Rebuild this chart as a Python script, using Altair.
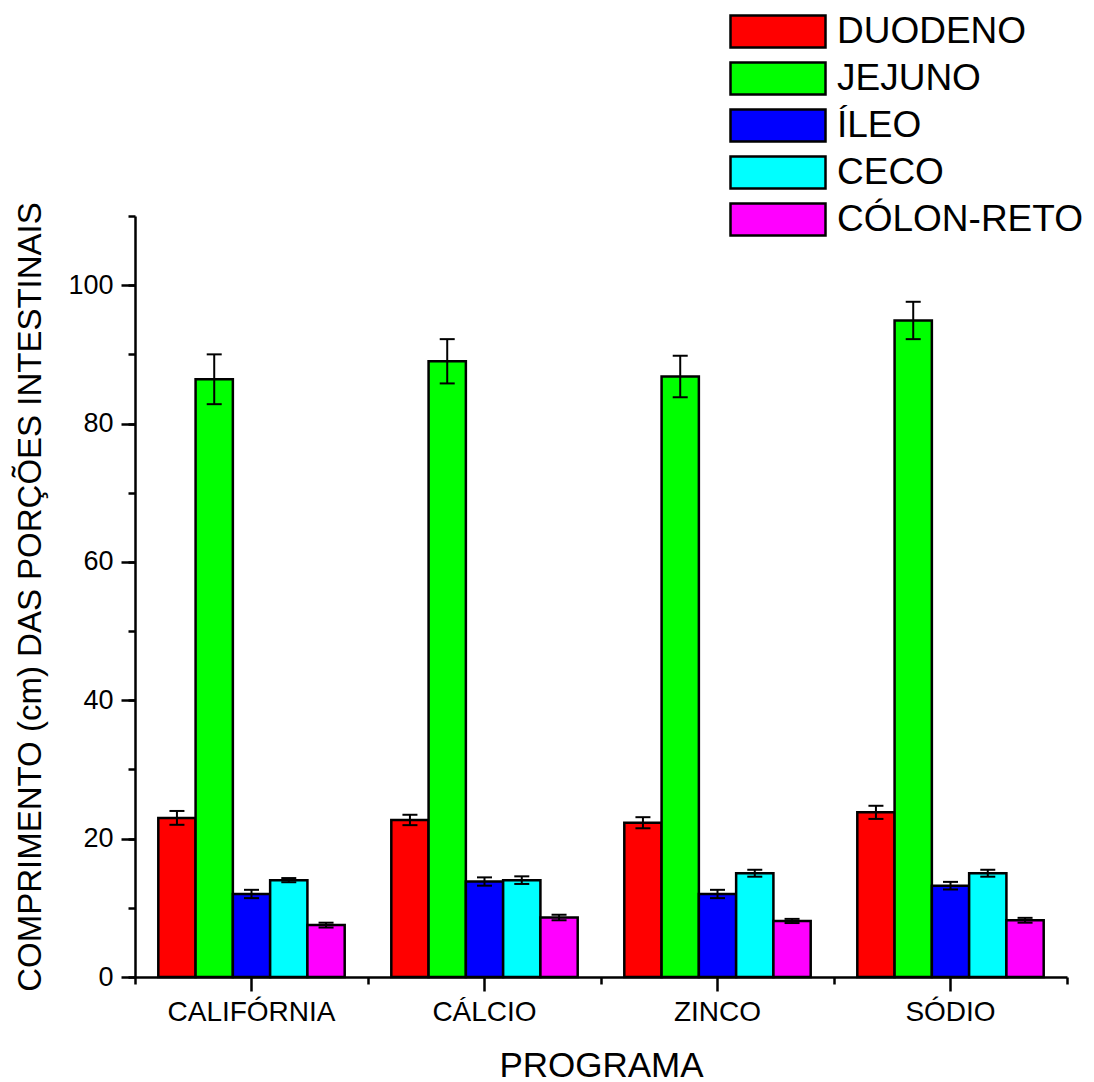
import altair as alt
import pandas as pd

# Programs (x categories) and intestinal segments (series)
programas = ["CALIFÓRNIA", "CÁLCIO", "ZINCO", "SÓDIO"]
porcoes = ["DUODENO", "JEJUNO", "ÍLEO", "CECO", "CÓLON-RETO"]
cores = ["#ff0000", "#00ff00", "#0000ff", "#00ffff", "#ff00ff"]

# Mean length (cm) per segment, in program order
duodeno = [23.0, 22.7, 22.3, 23.8]
jejuno = [86.4, 89.0, 86.8, 94.9]
ileo = [12.0, 13.8, 12.0, 13.2]
ceco = [14.0, 14.0, 15.0, 15.0]
colon_reto = [7.5, 8.6, 8.1, 8.2]

# Error (± cm) per segment, in program order
err_duodeno = [1.0, 0.75, 0.8, 0.95]
err_jejuno = [3.6, 3.2, 3.0, 2.7]
err_ileo = [0.6, 0.6, 0.6, 0.55]
err_ceco = [0.3, 0.55, 0.5, 0.5]
err_colon_reto = [0.35, 0.4, 0.3, 0.35]

medias = [duodeno, jejuno, ileo, ceco, colon_reto]
erros = [err_duodeno, err_jejuno, err_ileo, err_ceco, err_colon_reto]

rows = []
for porcao, vals, errs in zip(porcoes, medias, erros):
    for prog, v, e in zip(programas, vals, errs):
        rows.append({"programa": prog, "porcao": porcao, "media": v, "erro": e})
df = pd.DataFrame(rows)
df["lo"] = df["media"] - df["erro"]
df["hi"] = df["media"] + df["erro"]

FONT = "Liberation Sans"
W, H = 932, 761

x_scale = alt.Scale(paddingInner=0, paddingOuter=0)
y_scale = alt.Scale(domain=[0, 110], nice=False, zero=True)
xoff = alt.XOffset(
    "porcao:N", sort=porcoes, scale=alt.Scale(paddingInner=0, paddingOuter=0.625)
)
color = alt.Color(
    "porcao:N",
    sort=porcoes,
    scale=alt.Scale(domain=porcoes, range=cores),
    legend=alt.Legend(
        title=None,
        orient="none",
        legendX=594,
        legendY=-208,
        padding=0,
        symbolType="M-1,-0.337H1V0.337H-1Z",
        symbolSize=9025,
        symbolStrokeColor="black",
        symbolStrokeWidth=2.5,
        symbolOpacity=1,
        labelFont=FONT,
        labelFontSize=37,
        labelColor="black",
        labelOffset=10,
        clipHeight=47,
        rowPadding=0,
        labelLimit=400,
    ),
)

major_x = alt.Axis(
    title="PROGRAMA",
    titleFont=FONT,
    titleFontSize=35,
    titleFontWeight="normal",
    titleColor="black",
    titlePadding=22,
    labelAngle=0,
    labelFont=FONT,
    labelFontSize=28,
    labelColor="black",
    labelPadding=7,
    tickSize=14,
    tickWidth=2.5,
    tickColor="black",
    domainColor="black",
    domainWidth=2.5,
    grid=False,
)
minor_x = alt.Axis(
    title=None,
    orient="bottom",
    tickBand="extent",
    labels=False,
    domain=False,
    tickSize=7,
    tickWidth=2.5,
    tickColor="black",
    grid=False,
)
major_y = alt.Axis(
    title="COMPRIMENTO (cm) DAS PORÇÕES INTESTINAIS",
    titleFont=FONT,
    titleFontSize=33,
    titleFontWeight="normal",
    titleColor="black",
    titlePadding=20,
    values=[0, 20, 40, 60, 80, 100],
    labelFont=FONT,
    labelFontSize=27,
    labelColor="black",
    labelPadding=8,
    tickSize=14,
    tickWidth=2.5,
    tickColor="black",
    domainColor="black",
    domainWidth=2.5,
    grid=False,
)
minor_y = alt.Axis(
    title=None,
    orient="left",
    values=list(range(0, 111, 10)),
    labels=False,
    domain=False,
    tickSize=7,
    tickWidth=2.5,
    tickColor="black",
    grid=False,
)

base = alt.Chart(df)

bars = base.mark_bar(stroke="black", strokeWidth=2.5, opacity=1).encode(
    x=alt.X("programa:N", sort=programas, scale=x_scale, axis=major_x),
    xOffset=xoff,
    y=alt.Y("media:Q", scale=y_scale, axis=major_y),
    color=color,
)

whiskers = base.mark_rule(color="black", strokeWidth=2).encode(
    x=alt.X("programa:N", sort=programas, axis=minor_x),
    xOffset=xoff,
    y=alt.Y("lo:Q", axis=minor_y),
    y2="hi:Q",
)

caps_lo = base.mark_tick(color="black", thickness=2, size=15, opacity=1).encode(
    x=alt.X("programa:N", sort=programas, axis=None),
    xOffset=xoff,
    y=alt.Y("lo:Q", axis=None),
)
caps_hi = base.mark_tick(color="black", thickness=2, size=15, opacity=1).encode(
    x=alt.X("programa:N", sort=programas, axis=None),
    xOffset=xoff,
    y=alt.Y("hi:Q", axis=None),
)

chart = (
    alt.layer(bars, whiskers, caps_lo, caps_hi)
    .resolve_axis(x="independent", y="independent")
    .properties(
        width=W,
        height=H,
        autosize=alt.AutoSizeParams(type="none"),
        padding={"left": 135, "top": 216, "right": 27, "bottom": 105},
        background="white",
    )
    .configure_view(stroke=None)
)

chart.save("out.html", embed_options={"renderer": "svg", "actions": False})
